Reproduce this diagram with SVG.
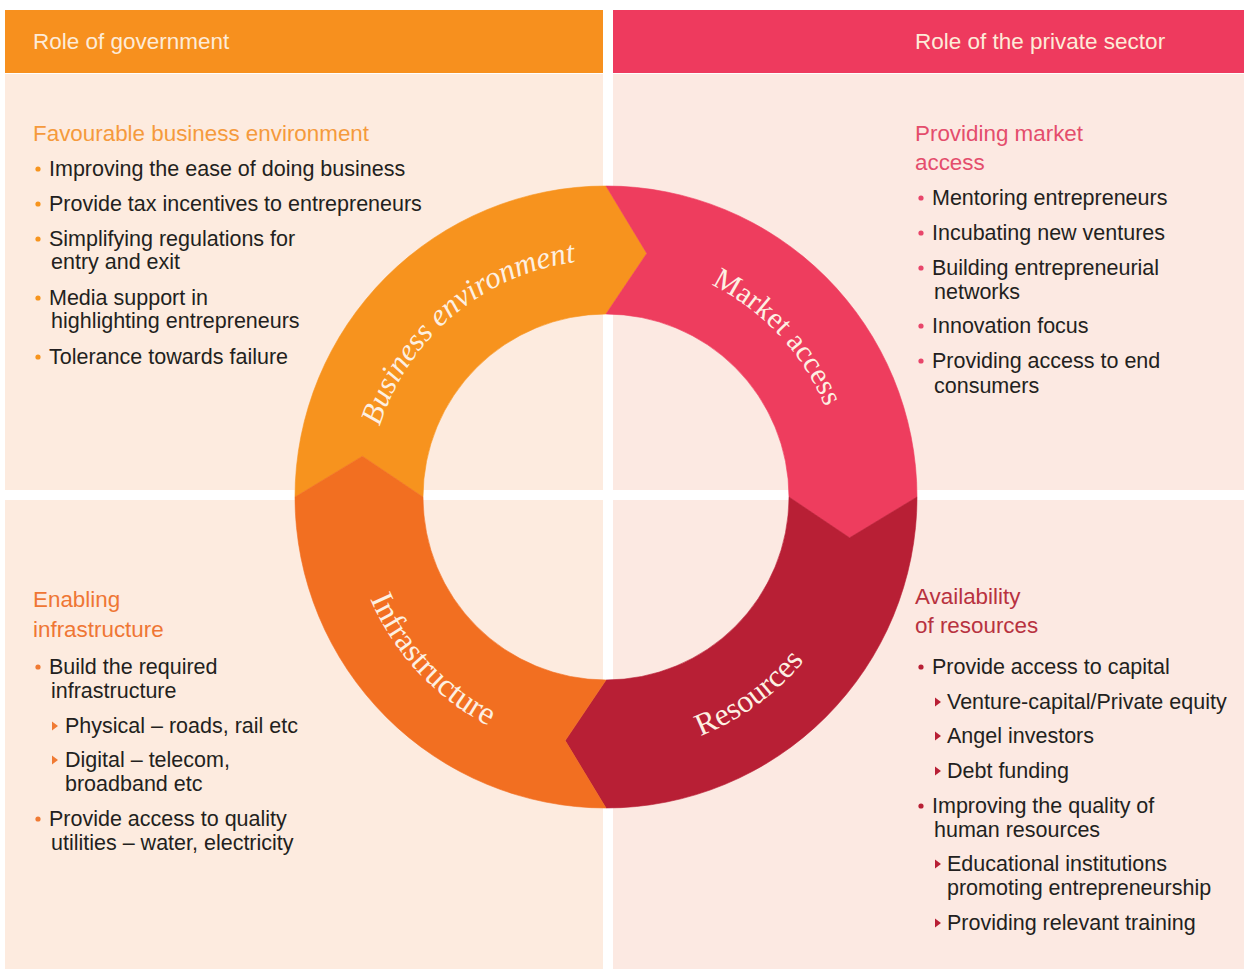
<svg xmlns="http://www.w3.org/2000/svg" width="1244" height="969" viewBox="0 0 1244 969">
<style>
.hdr{font-family:"Liberation Sans",Arial,sans-serif;font-size:22.5px;fill:#FDEBD8}
.body{font-family:"Liberation Sans",Arial,sans-serif;font-size:21.5px;fill:#231F20}
.h{font-family:"Liberation Sans",Arial,sans-serif;font-size:22.4px}
.ring{font-family:"Liberation Serif","Times New Roman",serif;fill:#FDF0E2}
</style>
<defs>
<path id="pBE" d="M 383.3 578.1 A 237 237 0 0 1 724.5 291.8"/>
<path id="pMA" d="M 552.7 266.1 A 237 237 0 0 1 832.6 566.3"/>
<path id="pRE" d="M 501.5 731.8 A 257 257 0 0 0 861.6 470.1"/>
<path id="pIN" d="M 360.2 421.9 A 258 258 0 0 0 664 748.4"/>
<polygon id="tri" points="0,-4.5 6,0 0,4.5"/>
</defs>
<rect width="1244" height="969" fill="#FFFFFF"/>
<g id="panels">
<rect x="5" y="74" width="598" height="416" fill="#FDEBDF"/>
<rect x="613" y="74" width="631" height="416" fill="#FCE9E2"/>
<rect x="5" y="500" width="598" height="469" fill="#FDEBDF"/>
<rect x="613" y="500" width="631" height="469" fill="#FCE9E2"/>
</g>
<g id="header-government">
<rect x="5" y="10" width="598" height="63" fill="#F7901E"/>
<text class="hdr" x="33" y="49">Role of government</text>
</g>
<g id="header-private">
<rect x="613" y="10" width="631" height="63" fill="#EE3A5E"/>
<text class="hdr" x="915" y="49">Role of the private sector</text>
</g>
<g id="ring">
<g id="seg-business">
<path d="M 295 497 A 311 311 0 0 1 606 186 L 646.8 253.4 L 606 314 A 183 183 0 0 0 423 497 L 362.4 456.2 Z" fill="#F7931E" stroke="#F7931E" stroke-width="0.6"/>
<text class="ring" font-style="italic" font-size="31"><textPath href="#pBE" startOffset="50%" text-anchor="middle">Business environment</textPath></text>
</g>
<g id="seg-market">
<path d="M 606 186 A 311 311 0 0 1 917 497 L 849.6 537.8 L 789 497 A 183 183 0 0 0 606 314 L 646.8 253.4 Z" fill="#EE3D5E" stroke="#EE3D5E" stroke-width="0.6"/>
<text class="ring" font-size="30"><textPath href="#pMA" startOffset="50%" text-anchor="middle">Market access</textPath></text>
</g>
<g id="seg-resources">
<path d="M 917 497 A 311 311 0 0 1 606 808 L 565.2 740.6 L 606 680 A 183 183 0 0 0 789 497 L 849.6 537.8 Z" fill="#B81F35" stroke="#B81F35" stroke-width="0.6"/>
<text class="ring" font-size="31.5"><textPath href="#pRE" startOffset="50%" text-anchor="middle">Resources</textPath></text>
</g>
<g id="seg-infrastructure">
<path d="M 606 808 A 311 311 0 0 1 295 497 L 362.4 456.2 L 423 497 A 183 183 0 0 0 606 680 L 565.2 740.6 Z" fill="#F26F21" stroke="#F26F21" stroke-width="0.6"/>
<text class="ring" font-size="32.5"><textPath href="#pIN" startOffset="50%" text-anchor="middle">Infrastructure</textPath></text>
</g>
</g>
<g id="text-business-environment">
<text class="h" x="33" y="141" fill="#F59A3C">Favourable business environment</text>
<g fill="#F7941D">
<circle cx="38" cy="169" r="2.6"/><circle cx="38" cy="204" r="2.6"/><circle cx="38" cy="239" r="2.6"/><circle cx="38" cy="298" r="2.6"/><circle cx="38" cy="357" r="2.6"/>
</g>
<text class="body" x="49" y="176">Improving the ease of doing business</text>
<text class="body" x="49" y="211">Provide tax incentives to entrepreneurs</text>
<text class="body" x="49" y="246">Simplifying regulations for</text>
<text class="body" x="51" y="269">entry and exit</text>
<text class="body" x="49" y="305">Media support in</text>
<text class="body" x="51" y="328">highlighting entrepreneurs</text>
<text class="body" x="49" y="364">Tolerance towards failure</text>
</g>
<g id="text-market-access">
<text class="h" x="915" y="141" fill="#E44D6C">Providing market</text>
<text class="h" x="915" y="170" fill="#E44D6C">access</text>
<g fill="#E8456A">
<circle cx="921" cy="198" r="2.6"/><circle cx="921" cy="233" r="2.6"/><circle cx="921" cy="268" r="2.6"/><circle cx="921" cy="326" r="2.6"/><circle cx="921" cy="361" r="2.6"/>
</g>
<text class="body" x="932" y="205">Mentoring entrepreneurs</text>
<text class="body" x="932" y="240">Incubating new ventures</text>
<text class="body" x="932" y="275">Building entrepreneurial</text>
<text class="body" x="934" y="299">networks</text>
<text class="body" x="932" y="333">Innovation focus</text>
<text class="body" x="932" y="368">Providing access to end</text>
<text class="body" x="934" y="393">consumers</text>
</g>
<g id="text-infrastructure">
<text class="h" x="33" y="607" fill="#EF7634">Enabling</text>
<text class="h" x="33" y="637" fill="#EF7634">infrastructure</text>
<g fill="#F07A33">
<circle cx="38" cy="667" r="2.6"/><circle cx="38" cy="819" r="2.6"/>
<use href="#tri" x="52" y="726"/><use href="#tri" x="52" y="760"/>
</g>
<text class="body" x="49" y="674">Build the required</text>
<text class="body" x="51" y="698">infrastructure</text>
<text class="body" x="65" y="733">Physical – roads, rail etc</text>
<text class="body" x="65" y="767">Digital – telecom,</text>
<text class="body" x="65" y="791">broadband etc</text>
<text class="body" x="49" y="826">Provide access to quality</text>
<text class="body" x="51" y="850">utilities – water, electricity</text>
</g>
<g id="text-resources">
<text class="h" x="915" y="604" fill="#B8323F">Availability</text>
<text class="h" x="915" y="633" fill="#B8323F">of resources</text>
<g fill="#B81F35">
<circle cx="921" cy="667" r="2.6"/><circle cx="921" cy="806" r="2.6"/>
<use href="#tri" x="935" y="702"/><use href="#tri" x="935" y="736"/><use href="#tri" x="935" y="771"/><use href="#tri" x="935" y="864"/><use href="#tri" x="935" y="923"/>
</g>
<text class="body" x="932" y="674">Provide access to capital</text>
<text class="body" x="947" y="709">Venture-capital/Private equity</text>
<text class="body" x="947" y="743">Angel investors</text>
<text class="body" x="947" y="778">Debt funding</text>
<text class="body" x="932" y="813">Improving the quality of</text>
<text class="body" x="934" y="837">human resources</text>
<text class="body" x="947" y="871">Educational institutions</text>
<text class="body" x="947" y="895">promoting entrepreneurship</text>
<text class="body" x="947" y="930">Providing relevant training</text>
</g>
</svg>
